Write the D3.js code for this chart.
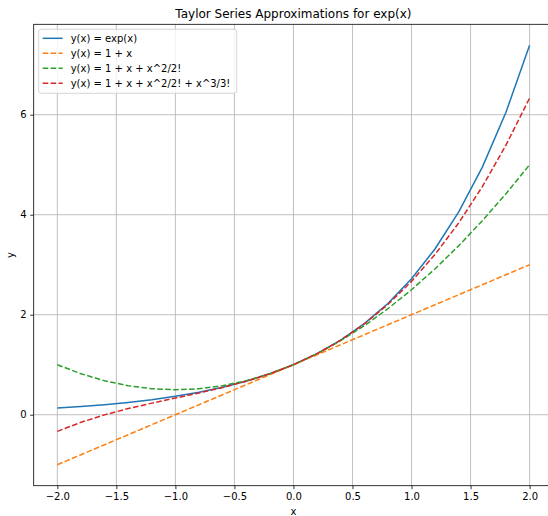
<!DOCTYPE html>
<html>
<head>
<meta charset="utf-8">
<script src="https://cdn.jsdelivr.net/npm/d3@7"></script>
<style>
  body { margin: 0; background: white; }
  svg { display: block; font-family: "DejaVu Sans", sans-serif; }
</style>
</head>
<body>
<div id="chart"></div>
<script>
// sample points, step 0.2
var xs = [-2.0, -1.8, -1.6, -1.4, -1.2, -1.0, -0.8, -0.6, -0.4, -0.2, 0.0,
          0.2, 0.4, 0.6, 0.8, 1.0, 1.2, 1.4, 1.6, 1.8, 2.0]
var expVals = [0.1353, 0.1653, 0.2019, 0.2466, 0.3012, 0.3679, 0.4493, 0.5488, 0.6703, 0.8187, 1.0,
               1.2214, 1.4918, 1.8221, 2.2255, 2.7183, 3.3201, 4.0552, 4.9530, 6.0496, 7.3891]
var order1 = [-1.0, -0.8, -0.6, -0.4, -0.2, 0.0, 0.2, 0.4, 0.6, 0.8, 1.0,
              1.2, 1.4, 1.6, 1.8, 2.0, 2.2, 2.4, 2.6, 2.8, 3.0]
var order2 = [1.0, 0.82, 0.68, 0.58, 0.52, 0.5, 0.52, 0.58, 0.68, 0.82, 1.0,
              1.22, 1.48, 1.78, 2.12, 2.5, 2.92, 3.38, 3.88, 4.42, 5.0]
var order3 = [-0.3333, -0.152, -0.0027, 0.1227, 0.232, 0.3333, 0.4347, 0.544, 0.6693, 0.8187, 1.0,
              1.2213, 1.4907, 1.816, 2.2053, 2.6667, 3.208, 3.8373, 4.5627, 5.392, 6.3333]

var seriesNames = ["y(x) = exp(x)", "y(x) = 1 + x", "y(x) = 1 + x + x^2/2!", "y(x) = 1 + x + x^2/2! + x^3/3!"]
var seriesColors = ["#1f77b4", "#ff7f0e", "#2ca02c", "#d62728"]
var seriesDashed = [false, true, true, true]
var xTicks = [-2.0, -1.5, -1.0, -0.5, 0.0, 0.5, 1.0, 1.5, 2.0]
var yTicks = [0, 2, 4, 6]

var series = [expVals, order1, order2, order3].map(function(vals, i){
  return { name: seriesNames[i], color: seriesColors[i], dashed: seriesDashed[i],
           points: xs.map(function(x, j){ return {x: x, y: vals[j]} }) }
})

var W = 548, H = 516
var margin = {top: 24.3, left: 33.7, bottom: 30.3}
var plotW = 519.5
var plotH = H - margin.top - margin.bottom
var dash = "5.55,2.4"

var xScale = d3.scaleLinear().domain([-2.2, 2.2]).range([0, plotW])
var yScale = d3.scaleLinear().domain([-1.4195, 7.8086]).range([plotH, 0])

var svg = d3.select("#chart").append("svg")
    .attr("width", W).attr("height", H)

var g = svg.append("g")
    .attr("transform", "translate(" + margin.left + "," + margin.top + ")")

// grid
g.append("g").selectAll("line").data(xTicks).enter().append("line")
  .attr("x1", function(d){ return xScale(d) }).attr("x2", function(d){ return xScale(d) })
  .attr("y1", 0).attr("y2", plotH)
  .attr("stroke", "#b0b0b0").attr("stroke-width", 0.8)
g.append("g").selectAll("line").data(yTicks).enter().append("line")
  .attr("y1", function(d){ return yScale(d) }).attr("y2", function(d){ return yScale(d) })
  .attr("x1", 0).attr("x2", plotW)
  .attr("stroke", "#b0b0b0").attr("stroke-width", 0.8)

g.append("defs").append("clipPath").attr("id", "clip")
  .append("rect").attr("width", plotW).attr("height", plotH)

var line = d3.line()
  .x(function(d){ return xScale(d.x) })
  .y(function(d){ return yScale(d.y) })

g.append("g").attr("clip-path", "url(#clip)")
  .selectAll("path").data(series).enter().append("path")
  .attr("d", function(d){ return line(d.points) })
  .attr("fill", "none")
  .attr("stroke", function(d){ return d.color })
  .attr("stroke-width", 1.5)
  .attr("stroke-dasharray", function(d){ return d.dashed ? dash : null })

// axes
var fmt = function(d){ return d3.format(".1f")(d).replace("-", "\u2212") }
var xAxis = d3.axisBottom(xScale).tickValues(xTicks).tickFormat(fmt).tickSizeOuter(0).tickSize(3.5).tickPadding(3.5)
var yAxis = d3.axisLeft(yScale).tickValues(yTicks).tickFormat(d3.format("d")).tickSizeOuter(0).tickSize(3.5).tickPadding(3.5)

var xA = g.append("g").attr("transform", "translate(0," + plotH + ")").call(xAxis)
var yA = g.append("g").call(yAxis)
;[xA, yA].forEach(function(a){
  a.select(".domain").remove()
  a.selectAll(".tick line").attr("stroke", "#000").attr("stroke-width", 0.8)
  a.selectAll(".tick text").attr("fill", "#000").style("font-size", "10px").style("font-family", "DejaVu Sans")
})

// spines
g.append("rect").attr("x", 0).attr("y", 0).attr("width", plotW).attr("height", plotH)
  .attr("fill", "none").attr("stroke", "#000").attr("stroke-width", 0.8)

// labels
svg.append("text").attr("x", margin.left + plotW / 2).attr("y", 18.3)
  .attr("text-anchor", "middle").style("font-size", "12px")
  .text("Taylor Series Approximations for exp(x)")
svg.append("text").attr("x", margin.left + plotW / 2).attr("y", 515)
  .attr("text-anchor", "middle").style("font-size", "10px")
  .text("x")
svg.append("text").attr("transform", "translate(13.5," + (margin.top + plotH / 2) + ") rotate(-90)")
  .attr("text-anchor", "middle").style("font-size", "10px")
  .text("y")

// legend
var legend = g.append("g").attr("transform", "translate(5,5)")
legend.append("rect").attr("width", 198).attr("height", 64).attr("rx", 2.5)
  .attr("fill", "white").attr("fill-opacity", 0.8)
  .attr("stroke", "#cccccc").attr("stroke-width", 0.8)
var items = legend.selectAll(".item").data(series).enter().append("g")
  .attr("transform", function(d, i){ return "translate(0," + (9 + i * 15) + ")" })
items.append("line").attr("x1", 4).attr("x2", 24).attr("y1", 0).attr("y2", 0)
  .attr("stroke", function(d){ return d.color }).attr("stroke-width", 1.5)
  .attr("stroke-dasharray", function(d){ return d.dashed ? dash : null })
items.append("text").attr("x", 32).attr("y", 0).attr("dy", "0.35em")
  .style("font-size", "10px").text(function(d){ return d.name })
</script>
</body>
</html>
